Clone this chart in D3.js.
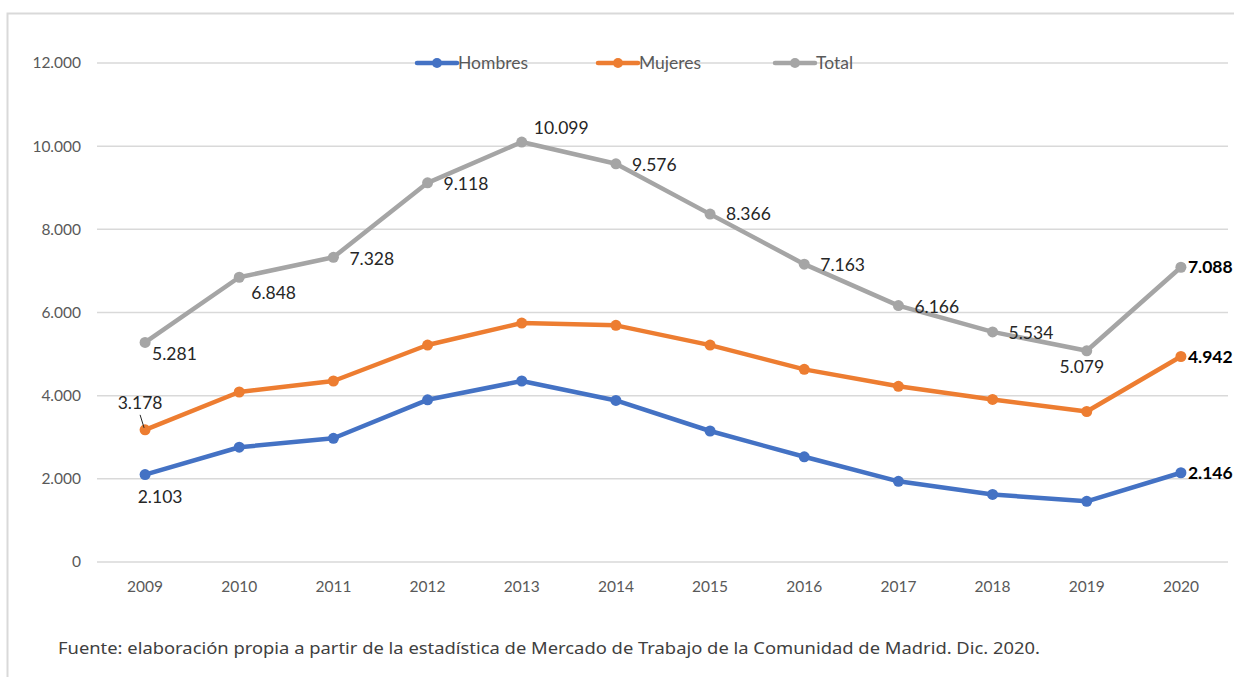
<!DOCTYPE html>
<html>
<head>
<meta charset="utf-8">
<script src="https://cdn.jsdelivr.net/npm/d3@7"></script>
<style>
  body { margin: 0; background: #fff; }
  svg { display: block; font-family: Lato, "Open Sans", sans-serif; }
</style>
</head>
<body>
<svg id="chart" width="1234" height="677"></svg>
<script>
const years = ["2009", "2010", "2011", "2012", "2013", "2014", "2015", "2016", "2017", "2018", "2019", "2020"]
const hombres = [2103, 2760, 2975, 3900, 4353, 3885, 3150, 2530, 1940, 1625, 1460, 2146]
const mujeres = [3178, 4088, 4353, 5218, 5746, 5691, 5216, 4633, 4226, 3909, 3619, 4942]
const total = [5281, 6848, 7328, 9118, 10099, 9576, 8366, 7163, 6166, 5534, 5079, 7088]
const yTicks = [0, 2000, 4000, 6000, 8000, 10000, 12000]
const footnote = "Fuente: elaboración propia a partir de la estadística de Mercado de Trabajo de la Comunidad de Madrid. Dic. 2020."

const series = [
    { name: "Hombres", values: hombres, color: "#4472C4" },
    { name: "Mujeres", values: mujeres, color: "#ED7D31" },
    { name: "Total", values: total, color: "#A5A5A5" }
]

const svg = d3.select("#chart")
const fmt = v => d3.format(",")(v).replace(/,/g, ".")

// outer frame
svg.append("rect")
    .attr("x", 7.5).attr("y", 13.5)
    .attr("width", 1240).attr("height", 700)
    .attr("fill", "none").attr("stroke", "#d9d9d9").attr("stroke-width", 2)

const x = d3.scaleBand().domain(years).range([98, 1228])
const y = d3.scaleLinear().domain([0, 12000]).range([562, 63])
const cx = d => x(d) + x.bandwidth() / 2

// gridlines
svg.append("g")
    .selectAll("line")
    .data(yTicks)
    .join("line")
    .attr("x1", 97).attr("x2", 1228)
    .attr("y1", d => y(d)).attr("y2", d => y(d))
    .attr("stroke", "#d9d9d9").attr("stroke-width", 1.5)

// y axis labels
svg.append("g")
    .selectAll("text")
    .data(yTicks)
    .join("text")
    .attr("x", 81).attr("y", d => y(d))
    .attr("dy", "0.35em")
    .attr("text-anchor", "end")
    .attr("font-size", 15.5).attr("fill", "#595959")
    .text(d => fmt(d))

// x axis labels
svg.append("g")
    .selectAll("text")
    .data(years)
    .join("text")
    .attr("x", d => cx(d)).attr("y", 587)
    .attr("dy", "0.35em")
    .attr("text-anchor", "middle")
    .attr("font-size", 15.5).attr("fill", "#595959")
    .text(d => d)

const line = d3.line()
    .x((d, i) => cx(years[i]))
    .y(d => y(d))

// legend (sits on the top gridline)
const legendX = [417, 598, 775]
series.forEach((s, i) => {
    const g = svg.append("g").attr("transform", `translate(${legendX[i]},${y(12000)})`)
    g.append("line").attr("x1", 0).attr("x2", 40)
        .attr("stroke", s.color).attr("stroke-width", 4.5).attr("stroke-linecap", "round")
    g.append("circle").attr("cx", 20).attr("r", 5).attr("fill", s.color)
    g.append("text").attr("x", 41).attr("dy", "0.35em")
        .attr("font-size", 17.5).attr("fill", "#595959")
        .text(s.name)
})

series.forEach(s => {
    svg.append("path")
        .datum(s.values)
        .attr("d", line)
        .attr("fill", "none")
        .attr("stroke", s.color)
        .attr("stroke-width", 4.5)
        .attr("stroke-linejoin", "round")
    svg.append("g")
        .selectAll("circle")
        .data(s.values)
        .join("circle")
        .attr("cx", (d, i) => cx(years[i]))
        .attr("cy", d => y(d))
        .attr("r", 5.5)
        .attr("fill", s.color)
})

// data labels: [series index, year index, dx, dy, anchor, bold]
const labels = [
    [2, 0, 7, 11, "start"], [2, 1, 12, 16, "start"], [2, 2, 16, 2, "start"],
    [2, 3, 16, 1, "start"], [2, 4, 12, -14, "start"], [2, 5, 16, 1, "start"],
    [2, 6, 16, 0, "start"], [2, 7, 16, 1, "start"], [2, 8, 16, 1, "start"],
    [2, 9, 16, 1, "start"], [2, 10, -5, 16, "middle"], [2, 11, 7, 0, "start", true],
    [1, 0, -5, -27, "middle"], [1, 11, 7, 0, "start", true],
    [0, 0, 15, 22, "middle"], [0, 11, 7, 0, "start", true]
]

svg.append("g")
    .selectAll("text")
    .data(labels)
    .join("text")
    .attr("x", d => cx(years[d[1]]) + d[2])
    .attr("y", d => y(series[d[0]].values[d[1]]) + d[3])
    .attr("dy", "0.35em")
    .attr("text-anchor", d => d[4])
    .attr("font-size", 17.5)
    .attr("font-weight", d => d[5] ? "bold" : "normal")
    .attr("fill", d => d[5] ? "#000" : "#262626")
    .text(d => fmt(series[d[0]].values[d[1]]))

// leader line for Mujeres 2009
svg.append("line")
    .attr("x1", cx(years[0]) - 5).attr("y1", y(mujeres[0]) - 15)
    .attr("x2", cx(years[0]) - 1).attr("y2", y(mujeres[0]) - 2)
    .attr("stroke", "#262626").attr("stroke-width", 1)

svg.append("text")
    .attr("x", 58).attr("y", 648)
    .attr("dy", "0.35em")
    .attr("font-family", "'Noto Sans', sans-serif")
    .attr("font-size", 17)
    .attr("fill", "#404040")
    .attr("textLength", 982)
    .attr("lengthAdjust", "spacingAndGlyphs")
    .text(footnote)
</script>
</body>
</html>
